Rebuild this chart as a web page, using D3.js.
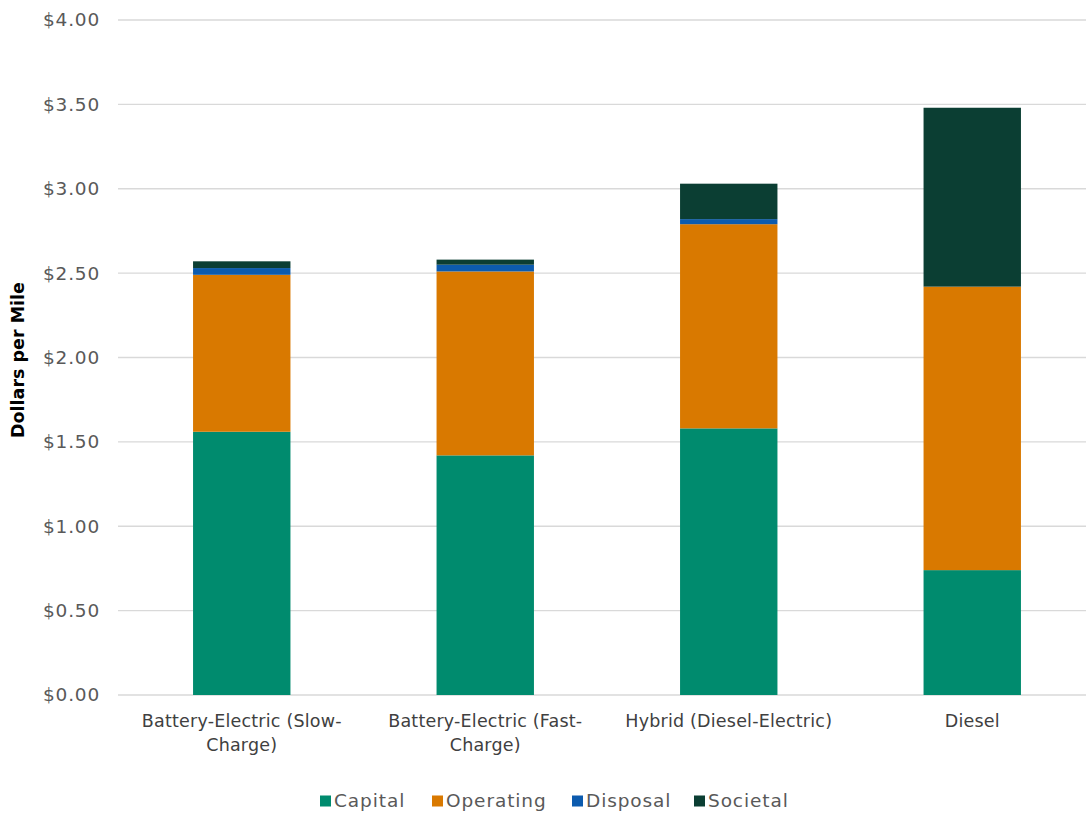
<!DOCTYPE html>
<html><head><meta charset="utf-8">
<script src="https://cdn.jsdelivr.net/npm/d3@7"></script>
<style>body{margin:0;background:#fff}</style>
</head><body>
<svg id="c" width="1086" height="814"></svg>
<script>
const categories = [["Battery-Electric (Slow-","Charge)"],["Battery-Electric (Fast-","Charge)"],["Hybrid (Diesel-Electric)"],["Diesel"]];
const seriesNames = ["Capital","Operating","Disposal","Societal"];
const capital   = [1.56, 1.42, 1.58, 0.74];
const operating = [0.93, 1.09, 1.21, 1.68];
const disposal  = [0.04, 0.04, 0.03, 0.00];
const societal  = [0.04, 0.03, 0.21, 1.06];
const colors = ["#008B6E","#D97900","#0C5BAE","#0B3E33"];
const yTicks = [0,0.5,1,1.5,2,2.5,3,3.5,4];

const svg = d3.select("#c");
const font = "'DejaVu Sans', sans-serif";
const x = d3.scaleBand().domain(d3.range(categories.length)).range([120,1094]).paddingInner(0.6).paddingOuter(0.3);
const y = d3.scaleLinear().domain([0,4]).range([695,20]);

svg.append("g").selectAll("line").data(yTicks).join("line")
  .attr("x1",118).attr("x2",1086).attr("y1",d=>y(d)).attr("y2",d=>y(d))
  .attr("stroke","#d9d9d9").attr("stroke-width",1.3);

svg.append("g").selectAll("text").data(yTicks).join("text")
  .attr("x",100).attr("y",d=>y(d)).attr("dy","0.35em").attr("text-anchor","end")
  .attr("font-family",font).attr("font-size",18.5).attr("letter-spacing",0.8).attr("fill","#595959")
  .text(d=>"$"+d.toFixed(2));

const rows = categories.map((c,i)=>({i, Capital:capital[i], Operating:operating[i], Disposal:disposal[i], Societal:societal[i]}));
const stack = d3.stack().keys(seriesNames)(rows);
svg.append("g").selectAll("g").data(stack).join("g").attr("fill",(d,k)=>colors[k])
  .selectAll("rect").data(d=>d.filter(p=>p[1]>p[0])).join("rect")
  .attr("x",d=>x(d.data.i)).attr("width",x.bandwidth())
  .attr("y",d=>y(d[1])).attr("height",d=>Math.max(0,y(d[0])-y(d[1])));

const cl = svg.append("g").selectAll("text").data(categories).join("text")
  .attr("text-anchor","middle").attr("font-family",font).attr("font-size",17.5).attr("letter-spacing",0.2).attr("fill","#404040")
  .attr("transform",(d,i)=>`translate(${x(i)+x.bandwidth()/2},727)`);
cl.selectAll("tspan").data(d=>d).join("tspan").attr("x",0).attr("dy",(d,j)=>j?24:0).text(d=>d);

svg.append("text").attr("transform","translate(24,360) rotate(-90)").attr("text-anchor","middle")
  .attr("font-family",font).attr("font-weight","bold").attr("font-size",17.5).attr("fill","#000")
  .text("Dollars per Mile");

const legX = [320,432,572,694];
const lg = svg.append("g").selectAll("g").data(seriesNames).join("g")
  .attr("transform",(d,i)=>`translate(${legX[i]},801)`);
lg.append("rect").attr("x",0).attr("y",-5.5).attr("width",11).attr("height",11).attr("fill",(d,i)=>colors[i]);
lg.append("text").attr("x",14).attr("dy","0.35em").attr("font-family",font).attr("font-size",18.5).attr("letter-spacing",0.9).attr("fill","#595959").text(d=>d);
</script>
</body></html>
